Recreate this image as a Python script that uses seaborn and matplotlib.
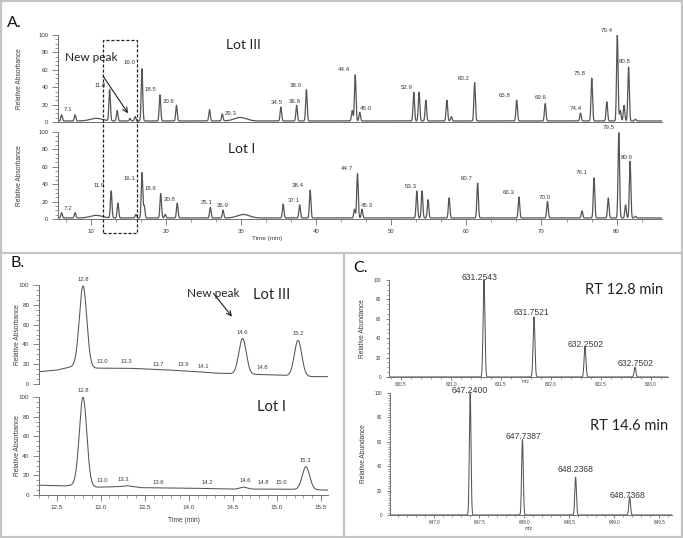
import numpy as np
import pandas as pd
import matplotlib.pyplot as plt
import seaborn as sns
from matplotlib import transforms
from matplotlib.patches import Rectangle
from matplotlib.lines import Line2D
from matplotlib.ticker import MultipleLocator, AutoMinorLocator

sns.set_style('ticks')
plt.rcParams['font.family'] = ['Liberation Sans', 'DejaVu Sans']

W, H = 683, 538
LINE = '#555555'
AX = '#6e6e6e'
TXT = '#3a3a3a'
BIG = ['Lato', 'DejaVu Sans']

# ---- panel A: full chromatograms (peak table)
a3_rt = [6.1, 7.9, 12.5, 13.5, 15.2, 15.9, 16.8, 19.2, 21.4, 25.8, 27.5, 35.3, 37.4, 38.7,
         44.8, 45.2, 45.8, 53.0, 53.7, 54.6, 57.4, 58.0, 61.1, 66.7, 70.5, 75.2, 76.7,
         78.7, 80.1, 80.5, 81.0, 81.6, 82.5]
a3_h = [7, 7, 36, 12, 3, 5, 60, 30, 18, 13, 8, 16, 18, 36,
        12, 53, 10, 33, 33, 24, 24, 5, 44, 24, 20, 9, 49,
        22, 99, 12, 18, 62, 2]
a3_hump_rt = [10.7, 29.9]
a3_hump_h = [3, 4]
a3_lab = ['7.1', '11.8', '16.0', '18.5', '20.6', '29.3', '34.5', '36.8', '38.0', '44.4',
          '45.0', '52.9', '60.2', '65.8', '69.6', '74.4', '75.8', '79.4', '80.8']
a3_lx = [6.9, 11.2, 15.2, 18.0, 20.4, 28.6, 34.7, 37.1, 37.3, 43.7,
         46.6, 52.1, 59.6, 65.1, 69.9, 74.6, 75.1, 78.7, 81.1]
a3_ly = [14, 42.5, 68, 37, 23, 10, 22, 24, 42.5, 60,
         16, 40, 50.5, 31, 27.6, 16, 56, 104.6, 69]

a1_rt = [6.1, 7.9, 12.7, 13.6, 16.0, 16.8, 17.1, 19.3, 19.9, 21.5, 25.9, 27.6, 35.6,
         37.8, 39.2, 45.1, 45.5, 46.1, 53.4, 54.1, 54.9, 57.7, 61.5, 67.0, 70.8, 75.4,
         77.0, 78.9, 80.3, 81.2, 81.8, 82.5]
a1_h = [6, 6, 31, 17, 4, 52, 14, 28, 4, 17, 12, 9, 16,
        15, 32, 10, 51, 10, 31, 31, 21, 23, 40, 24, 19, 8,
        46, 23, 98, 15, 65, 2]
a1_hump_rt = [10.7, 30.3]
a1_hump_h = [3, 4]
a1_lab = ['7.2', '11.9', '16.1', '18.6', '20.8', '25.1', '26.9', '37.1', '38.4', '44.7',
          '45.3', '53.3', '60.7', '66.3', '70.0', '76.1', '79.5', '80.9']
a1_lx = [6.9, 11.1, 15.2, 18.0, 20.5, 25.4, 27.5, 37.0, 37.6, 44.1,
         46.7, 52.6, 60.1, 65.7, 70.4, 75.4, 78.9, 81.4]
a1_ly = [12.6, 38, 47, 34.5, 22, 19.5, 15, 20.7, 38, 57.5,
         15, 37, 46, 30, 25, 53, 104.6, 71]

# ---- panel B: zoom 12.3-15.6 min
b3_base_t = [12.3, 12.5, 12.7, 12.95, 13.3, 13.7, 14.0, 14.3, 14.8, 15.0, 15.4, 15.58]
b3_base_v = [12.4, 14, 18, 16, 16, 14.5, 13, 11, 9.6, 9, 7.5, 7.4]
b3_rt = [12.80, 14.61, 15.24]
b3_apex = [99, 46, 44]
b3_lab = ['12.8', '13.0', '13.3', '13.7', '13.9', '14.1', '14.6', '14.8', '15.2']
b3_lx = [12.8, 13.02, 13.29, 13.65, 13.94, 14.16, 14.61, 14.83, 15.24]
b3_ly = [106, 22.5, 23, 20, 20, 18, 52, 17, 51.5]

b1_base_t = [12.3, 12.6, 12.72, 12.95, 13.2, 13.3, 13.45, 14.0, 14.5, 15.1, 15.58]
b1_base_v = [10, 9.2, 10.5, 8, 8.5, 9.5, 7.5, 7, 6, 6, 5]
b1_rt = [12.80, 14.62, 15.33]
b1_apex = [100, 8, 29]
b1_lab = ['12.8', '13.0', '13.3', '13.6', '14.2', '14.6', '14.8', '15.0', '15.3']
b1_lx = [12.8, 13.02, 13.26, 13.65, 14.21, 14.64, 14.85, 15.05, 15.32]
b1_ly = [107, 15, 15.5, 13, 13, 14.5, 12.4, 12.4, 35.7]

# ---- panel C: mass spectra
c1_mz = [631.33, 631.83, 632.34, 632.84]
c1_int = [100, 62, 31, 10]
c1_lab = ['631.2543', '631.7521', '632.2502', '632.7502']
c1_lx = [631.29, 631.81, 632.35, 632.85]
c1_ly = [103, 66, 34, 14]

c2_mz = [647.40, 647.98, 648.57, 649.17]
c2_int = [100, 62, 31, 15]
c2_lab = ['647.2400', '647.7387', '648.2368', '648.7368']
c2_lx = [647.40, 647.99, 648.57, 649.15]
c2_ly = [102, 64, 37.5, 16]


def peaks(x, rts, amps, sig):
    y = np.zeros_like(x)
    for r, a in zip(rts, amps):
        y += a * np.exp(-0.5 * ((x - r) / sig) ** 2)
    return y


def px_axes(x0, y0, x1, y1):
    return fig.add_axes([x0 / W, 1 - y1 / H, (x1 - x0) / W, (y1 - y0) / H])


def style(ax, xlim, ylabel, lab_x, ysize=4.3, show_x=True, bottom=True):
    ax.set_xlim(*xlim)
    ax.set_ylim(0, 100)
    ax.yaxis.set_major_locator(MultipleLocator(20))
    ax.yaxis.set_minor_locator(AutoMinorLocator(4))
    ax.tick_params(axis='both', which='major', length=4, width=0.6, color=AX,
                   labelsize=ysize, labelcolor=TXT, pad=3)
    ax.tick_params(axis='both', which='minor', length=2.5, width=0.5, color=AX)
    for s in ['top', 'right']:
        ax.spines[s].set_visible(False)
    for s in ['left', 'bottom']:
        ax.spines[s].set_color(AX)
        ax.spines[s].set_linewidth(0.7)
    if not show_x:
        ax.tick_params(axis='x', which='both', bottom=False, labelbottom=False)
    if not bottom:
        ax.spines['bottom'].set_visible(False)
    ax.set_xlabel('')
    ax.set_ylabel(ylabel, fontsize=4.8, color=TXT)
    ax.yaxis.set_label_coords(lab_x, 0.5)
    ax.patch.set_alpha(0)


def draw(ax, x, y, lw=0.8):
    df = pd.DataFrame({'x': x, 'y': y})
    sns.lineplot(data=df, x='x', y='y', ax=ax, color=LINE, linewidth=lw,
                 estimator=None, sort=False)


def labels(ax, txt, lx, ly, size):
    for t, x, y in zip(txt, lx, ly):
        ax.text(x, y, t, fontsize=size, color=TXT, ha='center', va='center', clip_on=False)


fig = plt.figure(figsize=(W / 100, H / 100), dpi=100)

# ---------------- panel A
xa = (5.62, 86.05)
ta = np.linspace(xa[0], xa[1], 16000)
axA3 = px_axes(58, 35, 662, 122)
axA1 = px_axes(58, 132, 662, 219)
for ax, rt, h, hrt, hh, lab, lx, ly in [
        (axA3, a3_rt, a3_h, a3_hump_rt, a3_hump_h, a3_lab, a3_lx, a3_ly),
        (axA1, a1_rt, a1_h, a1_hump_rt, a1_hump_h, a1_lab, a1_lx, a1_ly)]:
    y = 1.2 + peaks(ta, rt, h, 0.1) + peaks(ta, hrt, hh, 0.8)
    draw(ax, ta, y, lw=0.9)
    labels(ax, lab, lx, ly, 4.4)
style(axA3, xa, 'Relative Absorbance', -0.058, show_x=False)
style(axA1, xa, 'Relative Absorbance', -0.058)
axA1.xaxis.set_major_locator(MultipleLocator(10))
axA1.xaxis.set_minor_locator(AutoMinorLocator(3))
axA1.set_xticks([10, 20, 30, 40, 50, 60, 70, 80])
axA1.text(33.5, -22, 'Time (min)', fontsize=4.6, color=TXT, ha='center', va='center')

axA3.text(30.3, 88.5, 'Lot III', fontsize=10, family=BIG, color='#222222', ha='center', va='center')
axA1.text(30.1, 80.5, 'Lot I', fontsize=10, family=BIG, color='#222222', ha='center', va='center')
axA3.annotate('New peak', xy=(14.95, 10), xytext=(10.0, 73.6), fontsize=8.5, family=BIG,
              color='#222222', ha='center', va='center',
              arrowprops=dict(arrowstyle='->', color='#222222', lw=0.8, shrinkA=8, shrinkB=0))

# dashed box spanning both Lot traces
tr = transforms.blended_transform_factory(axA3.transData, fig.transFigure)
fig.patches.append(Rectangle((11.61, 1 - 233 / H), 16.14 - 11.61, 193 / H, transform=tr,
                             fill=False, ls=(0, (2.5, 1.5)), lw=0.9, ec='#222222'))

# ---------------- panel B
xb = (12.3, 15.58)
tb = np.linspace(xb[0], xb[1], 4000)
axB3 = px_axes(39, 285, 328, 384)
axB1 = px_axes(39, 397, 328, 495)
for ax, bt, bv, rt, apex, lab, lx, ly in [
        (axB3, b3_base_t, b3_base_v, b3_rt, b3_apex, b3_lab, b3_lx, b3_ly),
        (axB1, b1_base_t, b1_base_v, b1_rt, b1_apex, b1_lab, b1_lx, b1_ly)]:
    base = np.interp(tb, bt, bv)
    amp = np.array(apex) - np.interp(rt, bt, bv)
    draw(ax, tb, base + peaks(tb, rt, amp, 0.042), lw=0.75)
    labels(ax, lab, lx, ly, 4.2)
style(axB3, xb, 'Relative Absorbance', -0.062, ysize=4.5, show_x=False, bottom=False)
style(axB1, xb, 'Relative Absorbance', -0.062, ysize=4.5)
axB1.xaxis.set_major_locator(MultipleLocator(0.5))
axB1.xaxis.set_minor_locator(AutoMinorLocator(5))
axB1.xaxis.set_major_formatter(plt.FormatStrFormatter('%.1f'))
axB1.set_xlabel('Time (min)', fontsize=4.8, color=TXT, labelpad=5)

axB3.text(14.94, 90, 'Lot III', fontsize=10.5, family=BIG, color='#222222', ha='center', va='center')
axB1.text(14.94, 90, 'Lot I', fontsize=10.5, family=BIG, color='#222222', ha='center', va='center')
axB3.annotate('New peak', xy=(14.49, 68), xytext=(14.28, 91.6), fontsize=8.5, family=BIG,
              color='#222222', ha='center', va='center',
              arrowprops=dict(arrowstyle='->', color='#222222', lw=0.8, shrinkA=0, shrinkB=0,
                              patchA=None, connectionstyle='arc3'),
              annotation_clip=False)

# ---------------- panel C
for (x0, y0, x1, y1), xlim, mz, inten, lab, lx, ly, rt_txt, rt_pos, mzlab, nminor in [
        ((389, 280, 668, 377), (630.38, 633.17), c1_mz, c1_int, c1_lab, c1_lx, c1_ly,
         'RT 12.8 min', (632.73, 90), -0.045, 4),
        ((390, 393, 672, 515), (646.51, 649.64), c2_mz, c2_int, c2_lab, c2_lx, c2_ly,
         'RT 14.6 min', (649.16, 73), -0.11, 10)]:
    ax = px_axes(x0, y0, x1, y1)
    m = np.linspace(xlim[0], xlim[1], 6000)
    draw(ax, m, peaks(m, mz, inten, 0.009), lw=0.75)
    labels(ax, lab, lx, ly, 6.2)
    style(ax, xlim, 'Relative Abundance', -0.082, ysize=3.3)
    ax.yaxis.set_minor_locator(AutoMinorLocator(nminor))
    ax.xaxis.set_major_locator(MultipleLocator(0.5))
    ax.xaxis.set_minor_locator(AutoMinorLocator(5))
    ax.xaxis.set_major_formatter(plt.FormatStrFormatter('%.1f'))
    ax.tick_params(axis='x', labelsize=3.3, pad=0.8)
    ax.tick_params(axis='both', which='major', length=2.5)
    ax.tick_params(axis='both', which='minor', length=1.6)
    ax.text(0.49, mzlab, 'm/z', transform=ax.transAxes, fontsize=3.5, color=TXT,
            ha='center', va='center')
    ax.text(rt_pos[0], rt_pos[1], rt_txt, fontsize=10.5, family=BIG, color='#222222',
            ha='center', va='center')

# ---------------- panel frames and letters
frame = '#c4c4c4'
fig.patches.append(Rectangle((0.001, 0.001), 0.997, 0.997, transform=fig.transFigure,
                             fill=False, ec=frame, lw=1.6))
fig.lines.append(Line2D([0, 1], [1 - 253 / H] * 2, transform=fig.transFigure, color=frame, lw=1.6))
fig.lines.append(Line2D([344 / W] * 2, [0, 1 - 253 / H], transform=fig.transFigure, color=frame, lw=1.6))
for t, (x, y) in [('A.', (7, 23)), ('B.', (11, 263)), ('C.', (353, 268))]:
    fig.text(x / W, 1 - y / H, t, fontsize=11.5, family=BIG, color='#111111', ha='left', va='center')

plt.savefig('out.png', dpi=100)
